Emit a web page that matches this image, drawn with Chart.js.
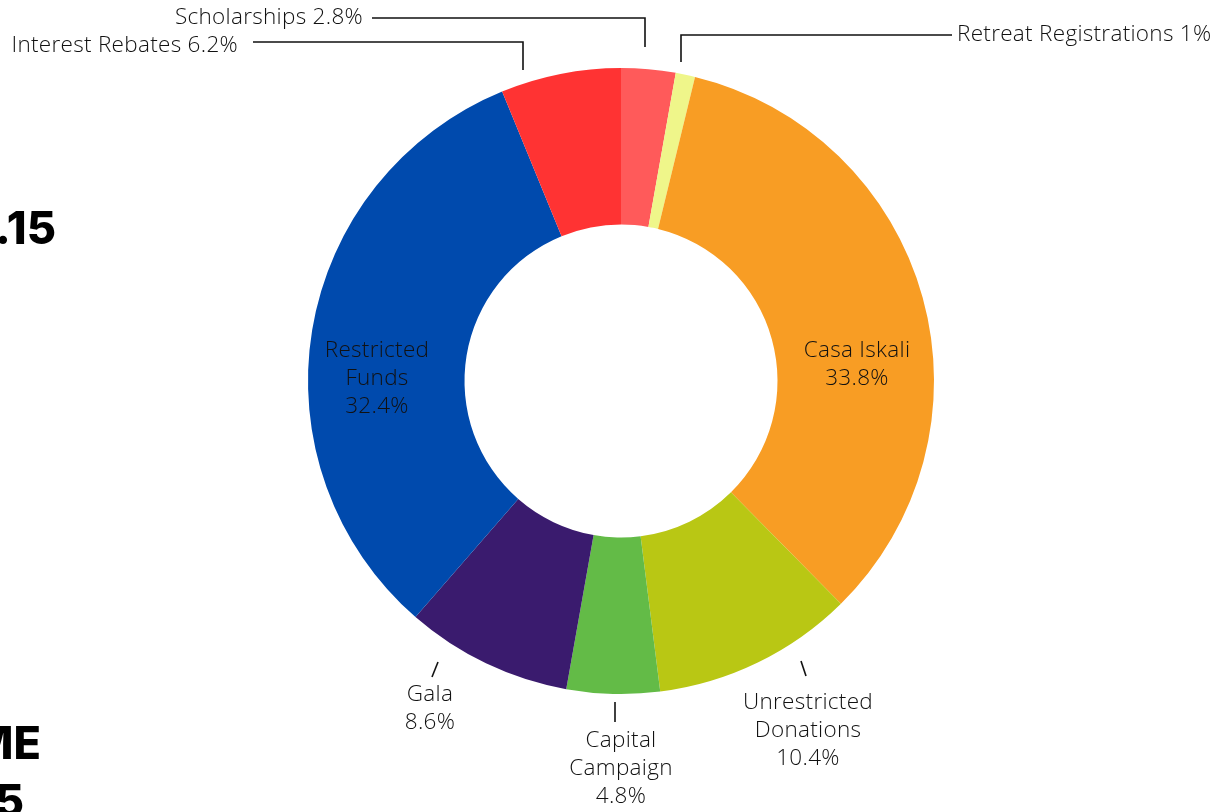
<!DOCTYPE html>
<html>
<head>
<meta charset="utf-8">
<script src="https://cdn.jsdelivr.net/npm/chart.js@4/dist/chart.umd.min.js"></script>
<style>
  html, body { margin: 0; padding: 0; background: #fff; overflow: hidden; }
  #wrap { position: relative; width: 1228px; height: 812px; overflow: hidden; }
  #income-chart { position: absolute; left: 0; top: 0; }
  .side { position: absolute; font-family: Inter, "Noto Sans", sans-serif; font-weight: 800; font-size: 45px; line-height: 1; color: #000; white-space: nowrap; text-align: right; }
</style>
</head>
<body>
<div id="wrap">
  <canvas id="income-chart" width="1228" height="812"></canvas>
  <div class="side" style="right:1172px; top:205px;">.15</div>
  <div class="side" style="right:1187px; top:720px;">ME</div>
  <div class="side" style="right:1204px; top:778px;">5</div>
</div>
<script>
const categories = ['Scholarships', 'Retreat Registrations', 'Casa Iskali', 'Unrestricted Donations',
                    'Capital Campaign', 'Gala', 'Restricted Funds', 'Interest Rebates'];
const shares = [2.8, 1, 33.8, 10.4, 4.8, 8.6, 32.4, 6.2];
const sliceColors = ['#FF5A5A', '#EFF68A', '#F89D24', '#B9C714', '#63BB47', '#3A1B6E', '#004AAD', '#FF3333'];

// label placement, offsets from the chart centre
const labelLayout = [
    { align: 'right', lines: ['Scholarships 2.8%'], at: [-258, -363], leader: [[-249, -363], [24, -363], [24, -334]] },
    { align: 'left', lines: ['Retreat Registrations 1%'], at: [336, -346], leader: [[60, -319], [60, -346], [331, -346]] },
    { align: 'center', lines: ['Casa Iskali', '33.8%'], at: [236, -30] },
    { align: 'center', lines: ['Unrestricted', 'Donations', '10.4%'], at: [187, 322], leader: [[180, 280], [185, 295]] },
    { align: 'center', lines: ['Capital', 'Campaign', '4.8%'], at: [0, 360], leader: [[-6, 321], [-6, 341]] },
    { align: 'center', lines: ['Gala', '8.6%'], at: [-191, 314], leader: [[-183, 281], [-189, 296]] },
    { align: 'center', lines: ['Restricted', 'Funds', '32.4%'], at: [-244, -30] },
    { align: 'right', lines: ['Interest Rebates 6.2%'], at: [-383, -335], leader: [[-368, -339], [-98, -339], [-98, -311]] }
];

const sliceLabels = {
    id: 'sliceLabels',
    afterDraw(chart) {
        const arc = chart.getDatasetMeta(0).data[0];
        const cx = arc.x, cy = arc.y;
        const ctx = chart.ctx;
        ctx.save();
        ctx.fillStyle = '#111';
        ctx.strokeStyle = '#111';
        ctx.lineWidth = 1.6;
        ctx.font = '300 22.5px "Open Sans", Lato, sans-serif';
        ctx.letterSpacing = '0.3px';
        ctx.textBaseline = 'middle';
        labelLayout.forEach(l => {
            if (l.leader) {
                ctx.beginPath();
                l.leader.forEach((p, i) => {
                    if (i === 0) ctx.moveTo(cx + p[0], cy + p[1]);
                    else ctx.lineTo(cx + p[0], cy + p[1]);
                });
                ctx.stroke();
            }
            ctx.textAlign = l.align;
            l.lines.forEach((t, i) => {
                ctx.fillText(t, cx + l.at[0], cy + l.at[1] + i * 28);
            });
        });
        ctx.restore();
    }
};

new Chart(document.getElementById('income-chart').getContext('2d'), {
    type: 'doughnut',
    data: {
        labels: categories,
        datasets: [{
            data: shares,
            backgroundColor: sliceColors,
            borderWidth: 0,
            hoverOffset: 0
        }]
    },
    options: {
        responsive: false,
        animation: false,
        cutout: '50%',
        layout: { padding: { left: 308, right: 294, top: 68, bottom: 118 } },
        plugins: {
            legend: { display: false },
            tooltip: { enabled: false }
        }
    },
    plugins: [sliceLabels]
});
</script>
</body>
</html>
